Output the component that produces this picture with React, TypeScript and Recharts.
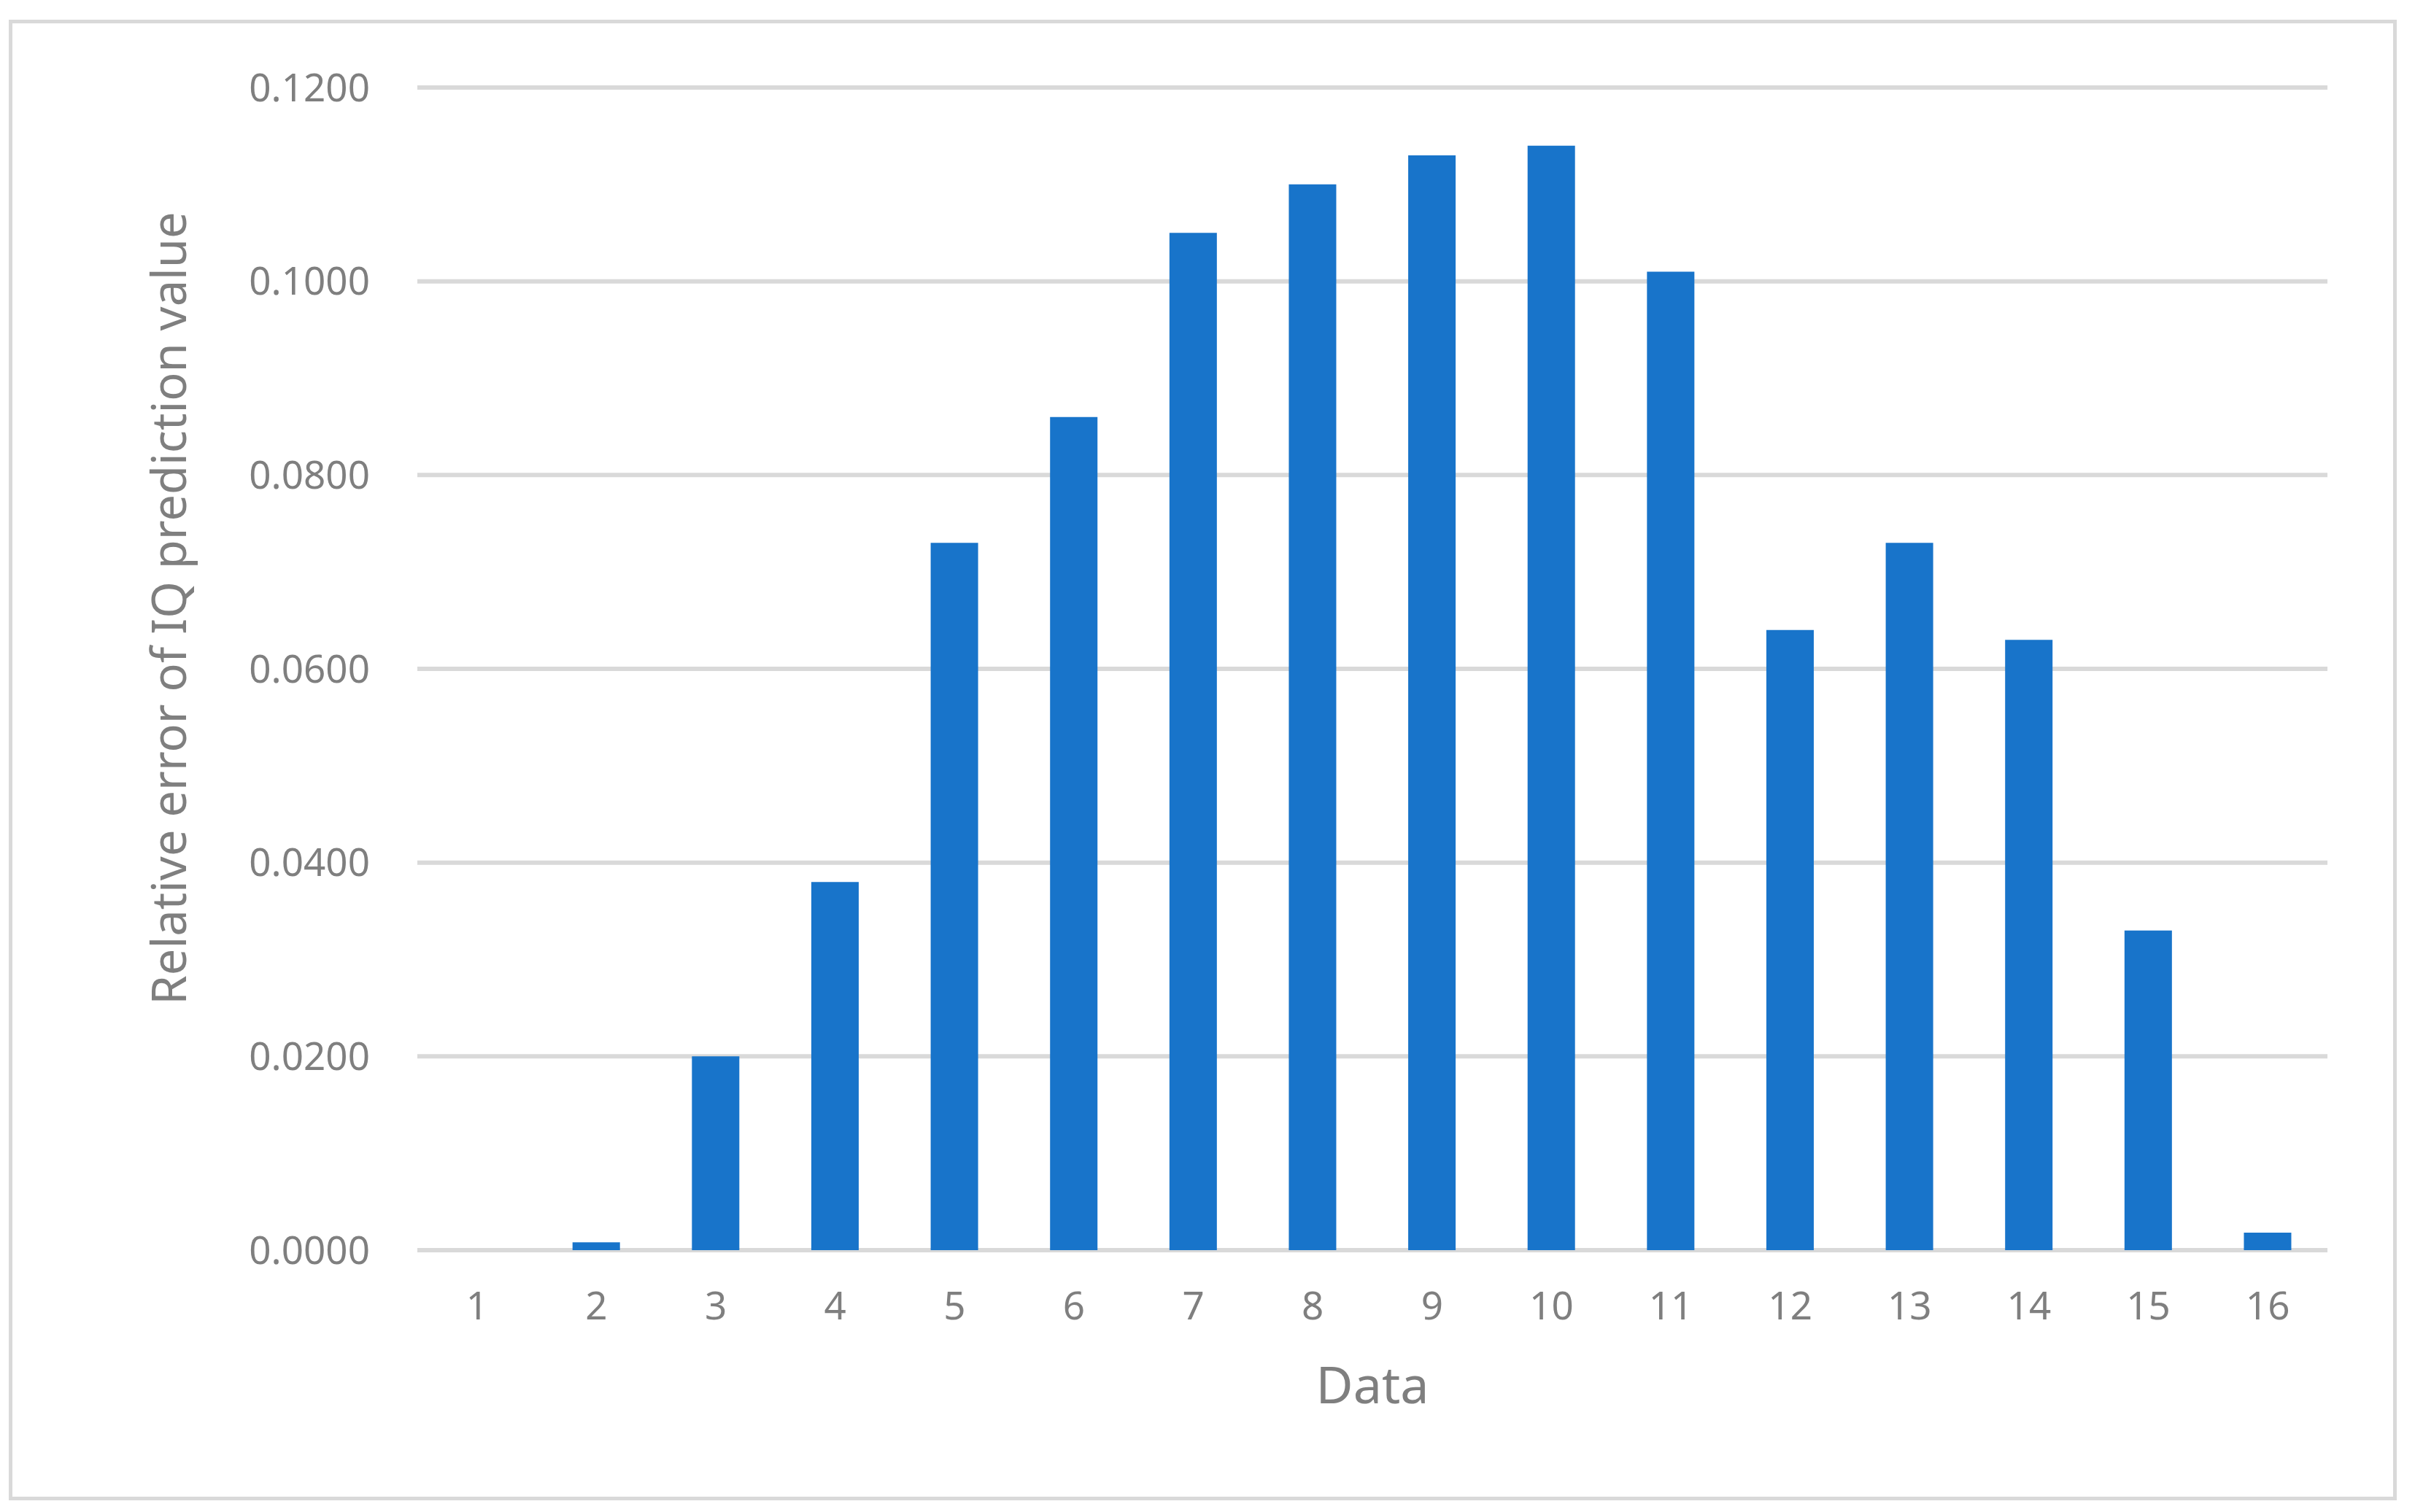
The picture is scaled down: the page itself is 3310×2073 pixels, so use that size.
import { Bar, BarChart, CartesianGrid, XAxis, YAxis } from 'recharts'

const CATEGORIES = ['1', '2', '3', '4', '5', '6', '7', '8', '9', '10', '11', '12', '13', '14', '15', '16']
const REL_ERROR = [0, 0.0008, 0.02, 0.038, 0.073, 0.086, 0.105, 0.11, 0.113, 0.114, 0.101, 0.064, 0.073, 0.063, 0.033, 0.0018]
const Y_TICKS = [0, 0.02, 0.04, 0.06, 0.08, 0.1, 0.12]

const X_TITLE = 'Data'
const Y_TITLE = 'Relative error of IQ prediction value'

const FONT = '"Noto Sans", "Open Sans", sans-serif'
const GREY = '#7f7f7f'
const BLUE = '#1874ca'

const data = CATEGORIES.map((c, i) => ({ name: c, value: REL_ERROR[i] }))

function YTitle({ viewBox }: any) {
  // centred a bit above the plot middle, like the original
  const cx = viewBox.x + 230
  const cy = viewBox.y + 714
  return (
    <text
      transform={`translate(${cx},${cy}) rotate(-90)`}
      textAnchor="middle"
      dominantBaseline="central"
      fill={GREY}
      fontSize={65}
      fontFamily={FONT}
    >
      {Y_TITLE}
    </text>
  )
}

export default function App() {
  return (
    <div style={{ position: 'absolute', left: 0, top: 0, width: 3310, height: 2073, background: '#fff' }}>
      <div
        style={{
          position: 'absolute',
          left: 12,
          top: 27,
          width: 3273,
          height: 2030,
          border: '5px solid #d9d9d9',
          boxSizing: 'border-box',
        }}
      />
      <div style={{ position: 'absolute', left: 0, top: 0 }}>
        <BarChart
          width={3310}
          height={2073}
          data={data}
          margin={{ top: 120, right: 120, bottom: 0, left: 0 }}
          barCategoryGap="30%"
        >
          <CartesianGrid vertical={false} stroke="#d9d9d9" strokeWidth={6} />
          <XAxis
            dataKey="name"
            height={359}
            axisLine={false}
            tickLine={false}
            tickSize={0}
            tickMargin={57}
            tick={{ fill: GREY, fontSize: 53, fontFamily: FONT }}
            interval={0}
            label={{ value: X_TITLE, position: 'insideTop', offset: 160, fill: GREY, fontSize: 70, fontFamily: FONT }}
          />
          <YAxis
            width={572}
            domain={[0, 0.12]}
            ticks={Y_TICKS}
            allowDataOverflow
            axisLine={false}
            tickLine={false}
            tickSize={0}
            tickMargin={65}
            tickFormatter={(v: number) => v.toFixed(4)}
            tick={{ fill: GREY, fontSize: 53, fontFamily: FONT }}
            label={{ content: (p: any) => <YTitle {...p} /> }}
          />
          <Bar dataKey="value" fill={BLUE} isAnimationActive={false} />
        </BarChart>
      </div>
    </div>
  )
}
